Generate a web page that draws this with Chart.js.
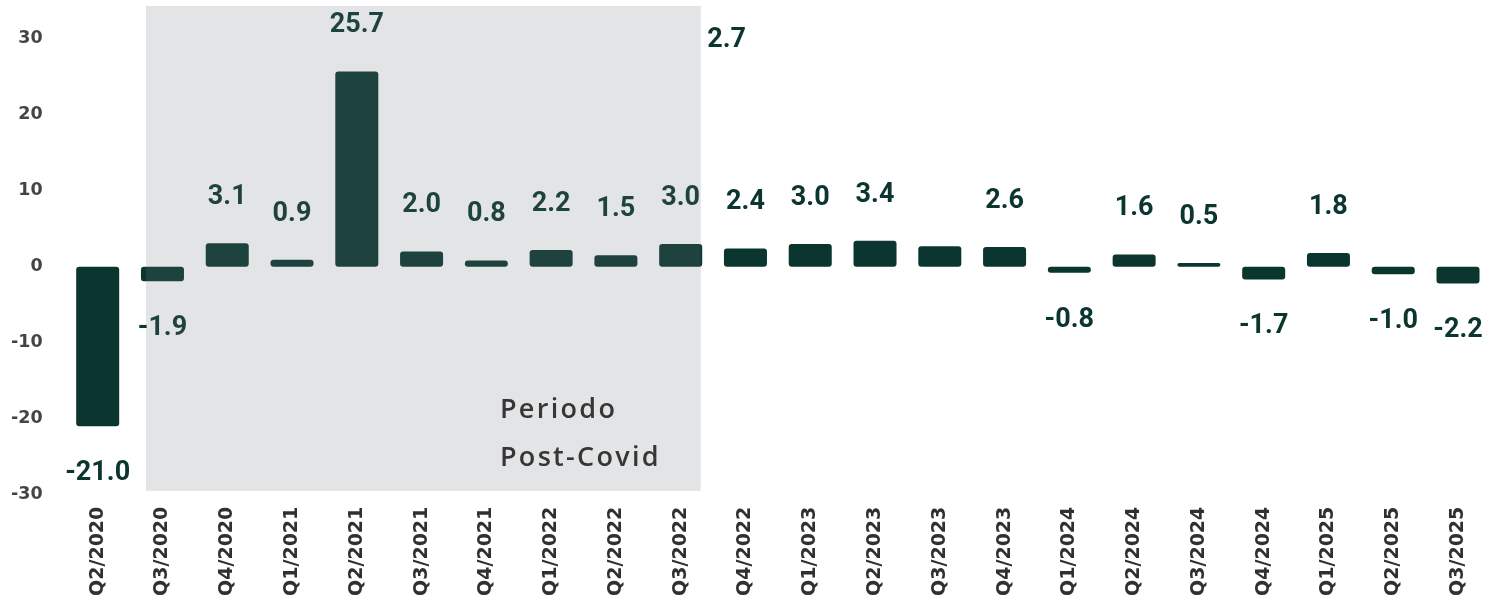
<!DOCTYPE html>
<html>
<head>
<meta charset="utf-8">
<title>Variazione trimestrale</title>
<script src="https://cdn.jsdelivr.net/npm/chart.js@4.4.1/dist/chart.umd.min.js"></script>
<style>
    html, body { margin: 0; padding: 0; background: #ffffff; }
    #myChart { display: block; }
</style>
</head>
<body>
<canvas id="myChart" width="1499" height="605"></canvas>
<script>

// quarters on the x axis
const quarters = [
    'Q2/2020', 'Q3/2020', 'Q4/2020', 'Q1/2021', 'Q2/2021', 'Q3/2021', 'Q4/2021',
    'Q1/2022', 'Q2/2022', 'Q3/2022', 'Q4/2022', 'Q1/2023', 'Q2/2023', 'Q3/2023',
    'Q4/2023', 'Q1/2024', 'Q2/2024', 'Q3/2024', 'Q4/2024', 'Q1/2025', 'Q2/2025', 'Q3/2025'
];

// % change per quarter
const changes = [
    -21.0, -1.9, 3.1, 0.9, 25.7, 2.0, 0.8,
    2.2, 1.5, 3.0, 2.4, 3.0, 3.4, 2.7,
    2.6, -0.8, 1.6, 0.5, -1.7, 1.8, -1.0, -2.2
];

const yTicks = [-30, -20, -10, 0, 10, 20, 30];

// shaded post-covid block, first and last quarter it covers
const shadeFrom = 'Q3/2020';
const shadeTo = 'Q3/2022';
const shadeLines = ['Periodo', 'Post-Covid'];

const barColor = '#0b362f';

function formatValue(v) {
    return v.toFixed(1);
}

// value labels above / below each bar
const valueLabels = {
    id: 'valueLabels',
    afterDatasetsDraw(chart) {
        const ctx = chart.ctx;
        const meta = chart.getDatasetMeta(0);
        const x = chart.scales.x;
        const y = chart.scales.y;
        const step = x.getPixelForValue(1) - x.getPixelForValue(0);

        ctx.save();
        ctx.font = 'bold 27px Roboto';
        ctx.fillStyle = barColor;
        ctx.textAlign = 'center';
        ctx.textBaseline = 'middle';

        meta.data.forEach(function (bar, i) {
            const v = changes[i];
            let px = bar.x;
            let py = v >= 0 ? bar.y - 46 : bar.y + 47;
            // the Q3/2023 label sits up near the top, next to the shaded block
            if (quarters[i] === 'Q3/2023') {
                px = x.getPixelForValue(9) + step * 0.71;
                py = y.getPixelForValue(29.8);
            }
            ctx.fillText(formatValue(v), px, py);
        });
        ctx.restore();
    }
};

// grey translucent block over the post-covid quarters
const shadeBox = {
    id: 'shadeBox',
    afterDraw(chart) {
        const ctx = chart.ctx;
        const x = chart.scales.x;
        const y = chart.scales.y;
        const step = x.getPixelForValue(1) - x.getPixelForValue(0);

        const left = x.getPixelForValue(quarters.indexOf(shadeFrom)) - step * 0.255;
        const right = x.getPixelForValue(quarters.indexOf(shadeTo)) + step * 0.31;
        const top = y.getPixelForValue(34.3);
        const bottom = y.getPixelForValue(-29.5);

        ctx.save();
        ctx.fillStyle = 'rgba(111, 121, 127, 0.2)';
        ctx.fillRect(left, top, right - left, bottom - top);

        ctx.font = '600 27px "Open Sans"';
        ctx.letterSpacing = '2.3px';
        ctx.fillStyle = '#363636';
        ctx.textAlign = 'left';
        ctx.textBaseline = 'alphabetic';
        const tx = x.getPixelForValue(6.21);
        ctx.fillText(shadeLines[0], tx, y.getPixelForValue(-19.85));
        ctx.fillText(shadeLines[1], tx, y.getPixelForValue(-26.2));
        ctx.restore();
    }
};

const ctx = document.getElementById('myChart').getContext('2d');
const myChart = new Chart(ctx, {
    type: 'bar',
    data: {
        labels: quarters,
        datasets: [{
            label: 'Variazione %',
            data: changes,
            backgroundColor: barColor,
            borderRadius: 3,
            borderSkipped: false,
            barPercentage: 0.664,
            categoryPercentage: 1
        }]
    },
    options: {
        responsive: false,
        animation: false,
        layout: {
            padding: { top: 38.7, right: 8.6, left: 0, bottom: 0 }
        },
        plugins: {
            legend: { display: false },
            tooltip: { enabled: false }
        },
        scales: {
            x: {
                grid: { display: false, drawTicks: false },
                border: { display: false },
                ticks: {
                    minRotation: 90,
                    maxRotation: 90,
                    padding: 12,
                    color: '#303030',
                    font: { family: 'DejaVu Sans', weight: 'bold', size: 19 }
                },
                afterFit: function (scale) {
                    scale.height = 110.3;
                }
            },
            y: {
                min: -30,
                max: 30,
                grid: { display: false, drawTicks: false },
                border: { display: false },
                afterBuildTicks: function (scale) {
                    scale.ticks = yTicks.map(function (v) { return { value: v }; });
                },
                ticks: {
                    padding: 22.6,
                    color: '#444444',
                    font: { family: 'DejaVu Sans', weight: 'bold', size: 17.5 }
                },
                afterFit: function (scale) {
                    scale.width = 65.3;
                }
            }
        }
    },
    plugins: [valueLabels, shadeBox]
});
</script>
</body>
</html>
